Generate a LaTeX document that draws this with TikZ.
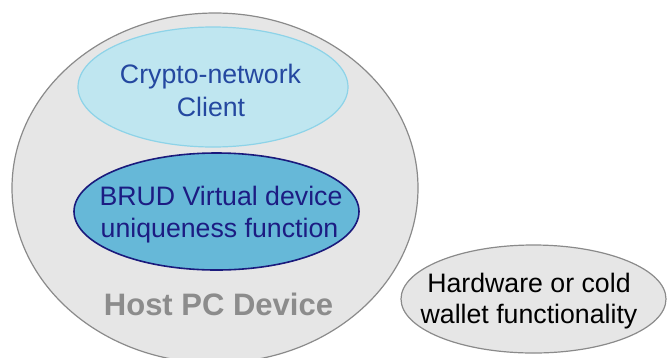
\documentclass[tikz,border=0pt]{standalone}
\usepackage{fontspec}
\setmainfont{Liberation Sans}
\usetikzlibrary{shapes.geometric}
\definecolor{hostfill}{HTML}{E6E6E6}
\definecolor{hostline}{HTML}{8A8A8A}
\definecolor{hosttext}{HTML}{8C8C8C}
\definecolor{clientfill}{HTML}{BFE6F0}
\definecolor{clientline}{HTML}{8DD3E8}
\definecolor{clienttext}{HTML}{2448A0}
\definecolor{brudfill}{HTML}{66B8D8}
\definecolor{brudline}{HTML}{1A1A7C}
\definecolor{brudtext}{HTML}{1C1C82}
\tikzset{
  blob/.style={ellipse, inner sep=0pt},
  txt/.style={anchor=base, inner sep=0pt, font=\fontsize{26.7}{31}\selectfont},
}
\begin{document}
\begin{tikzpicture}[x=1pt,y=-1pt]
\useasboundingbox (0,0) rectangle (668,357);
% host device
\node[blob, fill=hostfill, draw=hostline, line width=1.2pt,
      minimum width=406pt, minimum height=350pt] (host) at (215,188) {};
% crypto-network client
\node[blob, fill=clientfill, draw=clientline, line width=1.2pt,
      minimum width=270pt, minimum height=120pt] (client) at (213,87) {};
\node[txt, text=clienttext] (client1) at (210.5,83) {Crypto-network};
\node[txt, text=clienttext] (client2) at (211,116) {Client};
% BRUD function
\node[blob, fill=brudfill, draw=brudline, line width=1.6pt,
      minimum width=285pt, minimum height=117pt] (brud) at (216.5,211.5) {};
\node[txt, text=brudtext] (brud1) at (221,205) {BRUD Virtual device};
\node[txt, text=brudtext] (brud2) at (219.5,237) {uniqueness function};
% host label
\node[txt, text=hosttext, font=\bfseries\fontsize{31}{36}\selectfont] (hostlabel) at (218.5,315) {Host PC Device};
% hardware wallet
\node[blob, fill=hostfill, draw=hostline, line width=1.2pt,
      minimum width=265pt, minimum height=108pt] (wallet) at (533.5,299) {};
\node[txt, text=black] (wallet1) at (529,292) {Hardware or cold};
\node[txt, text=black] (wallet2) at (529,323) {wallet functionality};
\end{tikzpicture}
\end{document}
